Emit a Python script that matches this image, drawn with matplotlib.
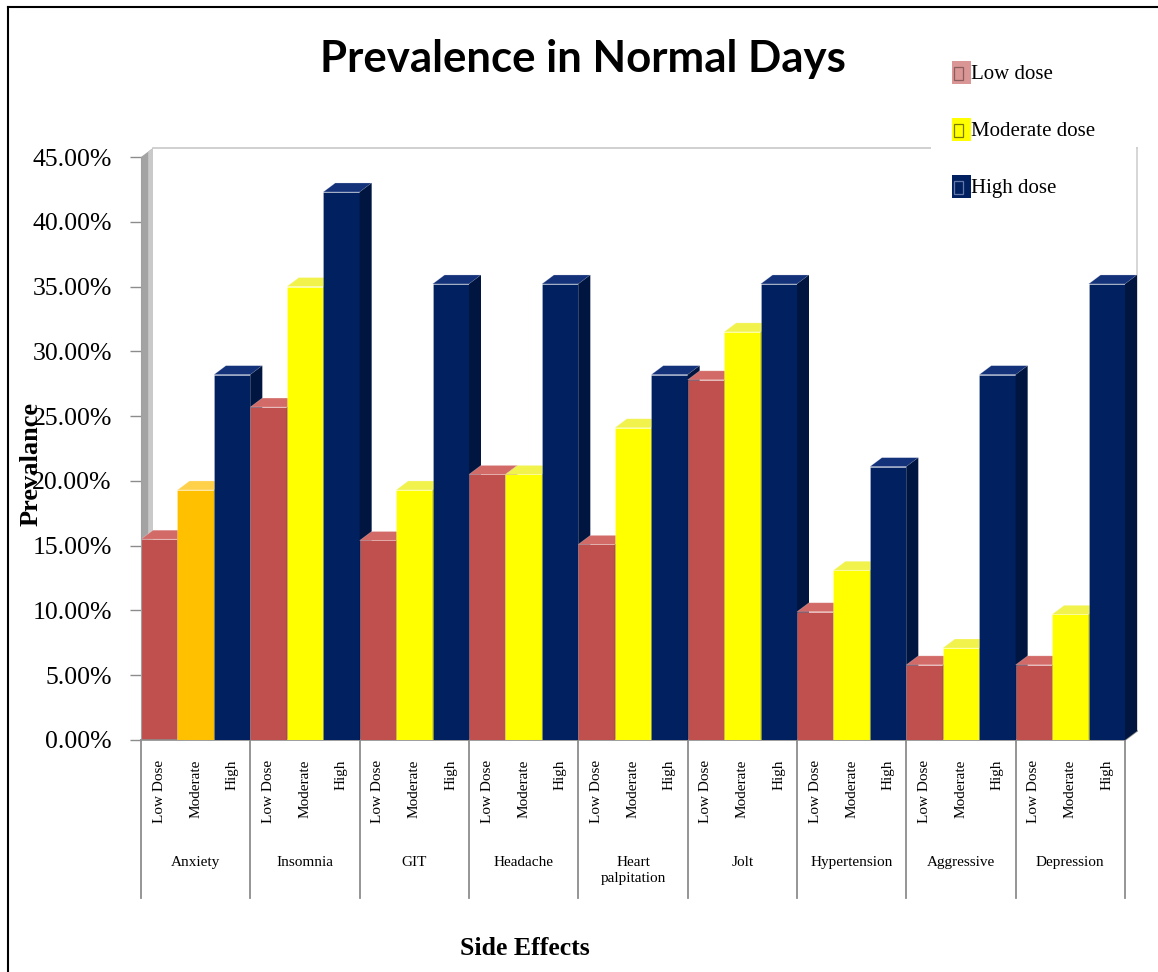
import matplotlib
matplotlib.use("Agg")
import matplotlib.pyplot as plt
import matplotlib.patches as pth
from matplotlib.lines import Line2D
from matplotlib.legend_handler import HandlerBase
from matplotlib.ticker import FuncFormatter, MultipleLocator

groups = ["Anxiety", "Insomnia", "GIT", "Headache", "Heart\npalpitation",
          "Jolt", "Hypertension", "Aggressive", "Depression"]
dose_ticks = ["Low Dose", "Moderate", "High"]
series_names = ["Low dose", "Moderate dose", "High dose"]

# prevalence in %
low_dose = [15.5, 25.7, 15.4, 20.5, 15.1, 27.8, 9.9, 5.8, 5.8]
moderate_dose = [19.3, 35.0, 19.3, 20.5, 24.1, 31.5, 13.1, 7.1, 9.7]
high_dose = [28.2, 42.3, 35.2, 35.2, 28.2, 35.2, 21.1, 28.2, 35.2]

SERIF = "Liberation Serif"
W, H = 1158, 972

# front / top / side shades for each dose
palette = [
    ("#C0504D", "#D26A67", "#8A3634"),
    ("#FFFF00", "#F2F24D", "#B5B500"),
    ("#002060", "#14327A", "#00153F"),
]
anxiety_moderate = ("#FFC000", "#FFD04A", "#B88A00")
legend_colors = ["#D99694", "#FFFF00", "#002060"]
legend_box_edges = ["#8A5E5E", "#7A7A00", "#6678A8"]


class TofuHandler(HandlerBase):
    # coloured key with the little empty glyph box drawn on top
    def create_artists(self, legend, orig_handle, xdescent, ydescent,
                       width, height, fontsize, trans):
        face = pth.Rectangle((-xdescent, -ydescent), width, height,
                             facecolor=orig_handle.get_facecolor(),
                             edgecolor="none", transform=trans)
        box = pth.Rectangle((-xdescent + 0.09 * width, -ydescent + 0.16 * height),
                            0.52 * width, 0.56 * height, fill=False,
                            edgecolor=orig_handle.get_edgecolor(), lw=0.9,
                            transform=trans)
        return [face, box]


fig = plt.figure(figsize=(W / 100, H / 100), dpi=100)
ax = fig.add_axes([141 / W, 1 - 740 / H, 984 / W, 583 / H])
n_bars = 3 * len(groups)
ax.set_xlim(0, n_bars)
ax.set_ylim(0, 45)

# 3d depth, pixels -> data units
dx = 12 / (984 / n_bars)
dy = 9 / (583 / 45)

# side wall and back wall outline
ax.add_patch(pth.Polygon([(0, 0), (dx, dy), (dx, 45 + dy), (0, 45)],
                         facecolor="#A3A3A3", edgecolor="none", zorder=0.5, clip_on=False))
ax.add_patch(pth.Polygon([(0.6 * dx, 0.6 * dy), (dx, dy), (dx, 45 + dy), (0.6 * dx, 45 + 0.6 * dy)],
                         facecolor="#C9C9C9", edgecolor="none", zorder=0.5, clip_on=False))
ax.plot([dx, n_bars + dx], [45 + dy, 45 + dy], color="#C8C8C8", lw=1.2, zorder=0.6, clip_on=False)
ax.plot([n_bars + dx, n_bars + dx], [dy, 45 + dy], color="#D0D0D0", lw=1.2, zorder=0.6, clip_on=False)
ax.plot([n_bars, n_bars + dx], [0, dy], color="#8C8C8C", lw=1.2, zorder=0.6, clip_on=False)

series = [low_dose, moderate_dose, high_dose]
z = 2
for g in range(len(groups)):
    for s in range(3):
        h = series[s][g]
        x0 = 3 * g + s
        front, top, side = anxiety_moderate if (g == 0 and s == 1) else palette[s]
        ax.bar(x0 + 0.5, h, width=1, color=front, edgecolor=(1, 1, 1, 0.25),
               linewidth=0.6, zorder=z)
        ax.add_patch(pth.Polygon([(x0, h), (x0 + 1, h), (x0 + 1 + dx, h + dy), (x0 + dx, h + dy)],
                                 facecolor=top, edgecolor=(1, 1, 1, 0.3), lw=0.5,
                                 zorder=z, clip_on=False))
        ax.add_patch(pth.Polygon([(x0 + 1, 0), (x0 + 1 + dx, dy), (x0 + 1 + dx, h + dy), (x0 + 1, h)],
                                 facecolor=side, edgecolor="none", zorder=z, clip_on=False))
        z += 1

# y axis
ax.yaxis.set_major_locator(MultipleLocator(5))
ax.yaxis.set_major_formatter(FuncFormatter(lambda v, _: f"{v:.2f}%"))
ax.tick_params(axis="y", length=8, width=1, color="#8C8C8C", pad=13, labelsize=18.5)
for lab in ax.get_yticklabels():
    lab.set_family(SERIF)

# dose labels under each bar
ax.set_xticks([i + 0.5 for i in range(n_bars)])
ax.set_xticklabels(dose_ticks * len(groups), rotation=90, fontsize=11, family=SERIF)
ax.tick_params(axis="x", length=0, pad=14)

for side_name in ["top", "right"]:
    ax.spines[side_name].set_visible(False)
ax.spines["left"].set_color("#A0A0A0")
ax.spines["bottom"].set_color("#8C8C8C")
ax.spines["bottom"].set_linewidth(1.2)

# group separators and names
xt = ax.get_xaxis_transform()
for k in range(len(groups) + 1):
    ax.plot([3 * k, 3 * k], [0, -158 / 583], transform=xt, color="#8C8C8C",
            lw=1.3, clip_on=False)
for g, name in enumerate(groups):
    ax.text(3 * g + 1.5, -116 / 583, name, transform=xt, ha="center", va="top",
            fontsize=11, family=SERIF, linespacing=1.3)

# legend
handles = [pth.Patch(facecolor=c, edgecolor=e) for c, e in zip(legend_colors, legend_box_edges)]
leg = ax.legend(handles, series_names, handler_map={pth.Patch: TofuHandler()},
                loc="upper left", mode="expand",
                bbox_to_anchor=(931 / W, 1 - 224 / H, 205 / W, 184 / H),
                bbox_transform=fig.transFigure, borderaxespad=0, borderpad=1.0,
                handlelength=0.91, handleheight=1.3, handletextpad=0.0,
                labelspacing=1.62, fancybox=False, framealpha=1,
                facecolor="white", edgecolor="none",
                prop={"family": SERIF, "size": 15})

fig.text(583 / W, 1 - 59 / H, "Prevalence in Normal Days", ha="center", va="center",
         fontsize=31.5, fontweight="bold", family="Lato")
fig.text(31 / W, 1 - 464 / H, "Prevalance", rotation=90, ha="center", va="center",
         fontsize=19, fontweight="bold", family=SERIF)
fig.text(525 / W, 1 - 948 / H, "Side Effects", ha="center", va="center",
         fontsize=18.5, fontweight="bold", family=SERIF)

# outer frame (left and top edges only)
fig.add_artist(Line2D([8 / W, 8 / W], [0, 1 - 7 / H], color="black", lw=1.5))
fig.add_artist(Line2D([8 / W, 1], [1 - 7 / H, 1 - 7 / H], color="black", lw=1.5))

fig.savefig("out.png", dpi=100, facecolor="white")
